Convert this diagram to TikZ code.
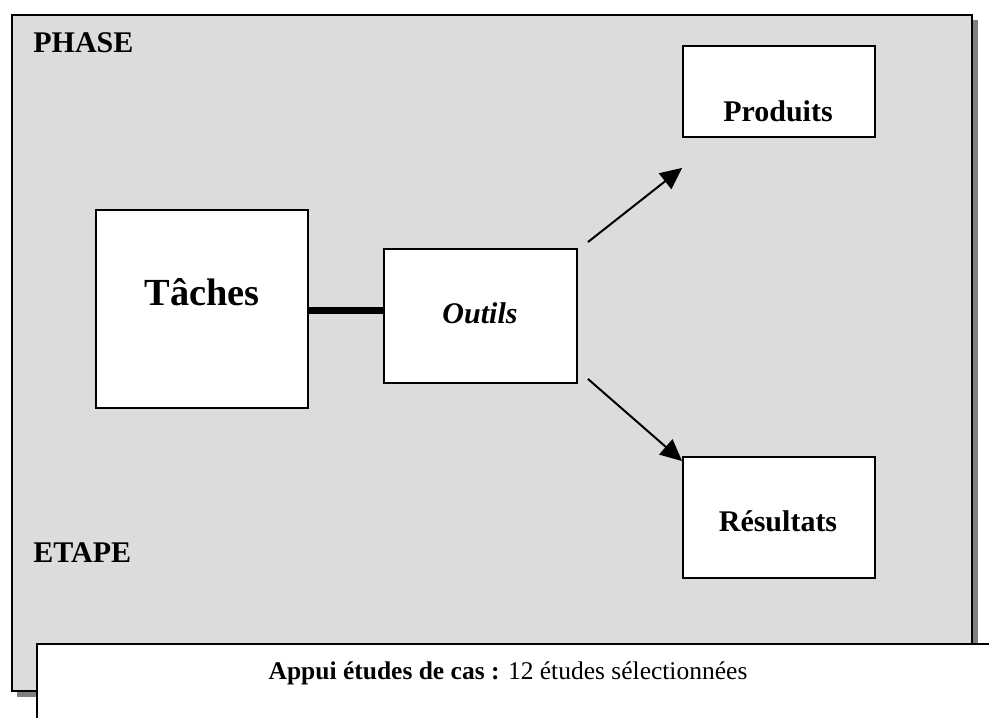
\documentclass[tikz,border=0pt]{standalone}
\usepackage{fontspec}
\setmainfont{Liberation Serif}
\usetikzlibrary{arrows.meta}
\definecolor{panelgray}{HTML}{DCDCDC}
\definecolor{shadowgray}{HTML}{808080}
\tikzset{
  panel/.style={draw=black, line width=1.3pt, fill=panelgray},
  boxnode/.style={draw=black, line width=1.1pt, fill=white, inner sep=0pt},
  txt/.style={anchor=base, inner sep=0pt, font=\bfseries\fontsize{18}{20}\selectfont},
  arrowline/.style={line width=1.2pt, -{Triangle[length=13pt,width=12pt]}},
  link/.style={line width=4.2pt}
}
\begin{document}
\begin{tikzpicture}[x=0.6pt, y=-0.6pt]
\useasboundingbox (0,0) rectangle (989,718);
\clip (0,0) rectangle (989,718);

% phase panel with its drop shadow
\fill[shadowgray] (17,20) rectangle (978,697);
\node[panel, minimum width=576pt, minimum height=405.6pt, inner sep=0pt, anchor=north west] (phase) at (11,14) {};

% boxes of the diagram
\node[boxnode, minimum width=127.2pt, minimum height=118.8pt] (tac) at (202,309) {};
\node[boxnode, minimum width=115.8pt, minimum height=80.4pt] (out) at (480.5,316) {};
\node[boxnode, minimum width=115.2pt, minimum height=54.6pt] (prod) at (779,91.5) {};
\node[boxnode, minimum width=115.2pt, minimum height=72.6pt] (res) at (779,517.5) {};

% labels
\node[txt] (phasetxt) at (33,53) [anchor=base west] {PHASE};
\node[txt] (etapetxt) at (33,563) [anchor=base west] {ETAPE};
\node[txt, font=\bfseries\fontsize{23}{27}\selectfont] (tactxt) at (202,306) {Tâches};
\node[txt, font=\bfseries\itshape\fontsize{18}{20}\selectfont] (outtxt) at (480,324) {Outils};
\node[txt] (prodtxt) at (778,122) {Produits};
\node[txt] (restxt) at (778,532) {Résultats};

% connectors
\draw[link] ([yshift=-1.2pt]tac.east) -- ([yshift=-1.2pt]tac.east -| out.west);
\coordinate (upstart) at ([shift={(10,-6)}]out.north east);
\coordinate (upend) at ([shift={(0,30)}]prod.south west);
\coordinate (downstart) at ([shift={(10,-5)}]out.south east);
\coordinate (downend) at ([shift={(0,5)}]res.north west);
\draw[arrowline] (upstart) -- (upend);
\draw[arrowline] (downstart) -- (downend);

% case-study band along the bottom
\draw[line width=1.3pt, fill=white] (37,740) -- (37,644) -- (1000,644) -- (1000,740) -- cycle;
\node[anchor=base, inner sep=0pt, font=\fontsize{15.3}{18}\selectfont] (appui) at (508,680) {\textbf{Appui études de cas :} 12 études sélectionnées};
\end{tikzpicture}
\end{document}
